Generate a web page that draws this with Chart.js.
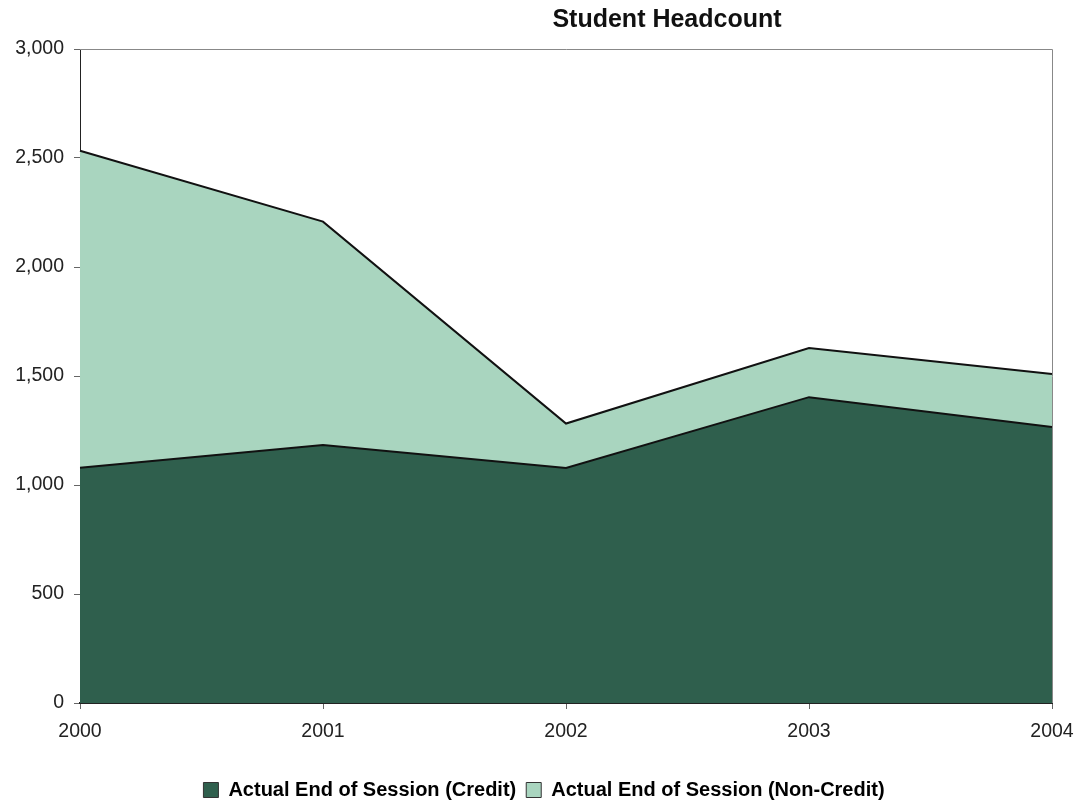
<!DOCTYPE html>
<html>
<head>
<meta charset="utf-8">
<script src="https://cdn.jsdelivr.net/npm/chart.js@4/dist/chart.umd.min.js"></script>
<style>
html,body{margin:0;padding:0;background:#fff;overflow:hidden;}
#wrap{width:1076px;height:801px;position:relative;overflow:hidden;}
canvas{display:block;}
</style>
</head>
<body>
<div id="wrap"><canvas id="c" width="1076" height="810"></canvas></div>
<script>
const years = ['2000','2001','2002','2003','2004'];
const credit = [1079, 1183, 1078, 1403, 1266];
const nonCredit = [1454, 1025, 204, 225, 243];
const yTicks = [0, 500, 1000, 1500, 2000, 2500, 3000];
const titleText = 'Student Headcount';

const FONT = '"Liberation Sans", Arial, sans-serif';

const frame = {
  id: 'frame',
  afterLayout(chart) {
    const lg = chart.legend;
    if (lg) { lg.left += 18; lg.right += 18; }
  },
  afterDatasetsDraw(chart) {
    const {ctx, chartArea: a} = chart;
    ctx.save();
    ctx.strokeStyle = '#888';
    ctx.lineWidth = 1;
    ctx.beginPath();
    ctx.moveTo(a.left, a.top + 0.5);
    ctx.lineTo(a.right + 0.5, a.top + 0.5);
    ctx.lineTo(a.right + 0.5, a.bottom);
    ctx.stroke();
    ctx.fillStyle = '#111';
    ctx.font = 'bold 25px ' + FONT;
    ctx.textAlign = 'center';
    ctx.textBaseline = 'middle';
    ctx.fillText(titleText, 667, 20);
    ctx.restore();
  }
};

new Chart(document.getElementById('c'), {
  type: 'line',
  data: {
    labels: years,
    datasets: [
      {label: 'Actual End of Session (Credit)', data: credit, fill: 'origin',
       backgroundColor: '#2f5f4d', borderColor: '#111', borderWidth: 2,
       pointRadius: 0, tension: 0},
      {label: 'Actual End of Session (Non-Credit)', data: nonCredit, fill: '-1',
       backgroundColor: '#a9d5bf', borderColor: '#111', borderWidth: 2,
       pointRadius: 0, tension: 0}
    ]
  },
  options: {
    responsive: false,
    animation: false,
    layout: {padding: {top: 49, right: 24, left: 0, bottom: 0}},
    plugins: {
      title: {display: false},
      tooltip: {enabled: false},
      legend: {
        position: 'bottom',
        labels: {
          boxWidth: 15, boxHeight: 15, padding: 10,
          color: '#111',
          font: {family: FONT, size: 20, weight: 'bold'},
          generateLabels(chart) {
            return chart.data.datasets.map((d, i) => ({
              text: d.label, fillStyle: d.backgroundColor, strokeStyle: '#333',
              lineWidth: 1, datasetIndex: i, hidden: false
            }));
          }
        }
      }
    },
    scales: {
      x: {
        offset: false,
        grid: {drawOnChartArea: false, drawTicks: true, tickLength: 6, tickColor: '#666'},
        border: {color: '#222', width: 2},
        ticks: {color: '#222', padding: 11, maxRotation: 0,
          font: {family: FONT, size: 19.5}},
        afterFit(s) { s.height = 67; s.paddingRight = 0; s.paddingLeft = 0; }
      },
      y: {
        stacked: true,
        min: 0, max: 3000,
        afterBuildTicks(s) { s.ticks = yTicks.map(v => ({value: v})); },
        grid: {drawOnChartArea: false, drawTicks: true, tickLength: 6, tickColor: '#666'},
        border: {color: '#222', width: 1},
        ticks: {color: '#222', padding: 10,
          font: {family: FONT, size: 19.5},
          callback: v => v.toLocaleString('en-US')},
        afterFit(s) { s.width = 80; }
      }
    }
  },
  plugins: [frame]
});
</script>
</body>
</html>
